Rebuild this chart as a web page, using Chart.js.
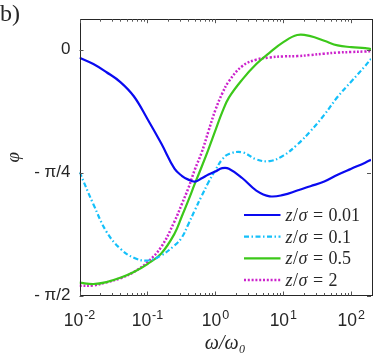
<!DOCTYPE html>
<html>
<head>
<meta charset="utf-8">
<script src="https://cdn.jsdelivr.net/npm/chart.js@4"></script>
<style>
  html, body { margin: 0; padding: 0; background: #fff; }
  canvas { display: block; }
</style>
</head>
<body>
<canvas id="myChart" width="374" height="356"></canvas>
<script>
// omega / omega0 sample points (log axis)
var omega = [0.01, 0.016, 0.025, 0.04, 0.063, 0.1, 0.16, 0.25, 0.32, 0.4, 0.5, 0.63, 0.79, 1,
  1.26, 1.58, 2.5, 4, 6.3, 10, 16, 25, 40, 63, 100, 160, 195];

// phase in degrees
var phi001 = [-3.0, -5.3, -8.3, -11.9, -17.1, -25.4, -34.4, -43.6, -46.2, -47.6, -48.3, -47.1, -45.7, -44.6,
  -43.4, -43.6, -47.1, -51.6, -53.7, -53.2, -51.6, -50.0, -48.3, -45.8, -43.6, -41.4, -40.3];
var phi01 = [-44.8, -56.6, -66.7, -72.9, -76.2, -77.2, -75.3, -71.7, -68.8, -63.9, -58.7, -53.5, -48.6, -44.1,
  -40.2, -38.2, -37.6, -40.2, -40.8, -38.8, -34.8, -29.9, -23.9, -17.3, -11.7, -6.0, -3.4];
var phi05 = [-85.3, -85.8, -85.1, -83.5, -81.4, -78.5, -74.6, -67.4, -61.1, -55.2, -49.0, -42.8, -36.5, -29.6,
  -22.9, -17.6, -10.9, -5.3, -1.1, 2.7, 5.3, 4.9, 3.2, 1.5, 0.9, 0.5, 0.2];
var phi2 = [-86.4, -86.3, -85.2, -83.7, -81.4, -77.8, -72.2, -62.9, -56.6, -50.7, -43.8, -37.6, -29.9, -22.1,
  -16.1, -11.6, -6.0, -3.7, -2.9, -2.5, -2.4, -2.0, -1.5, -1.1, -0.9, -0.7, -0.6];

var seriesLabels = ['z/σ = 0.01', 'z/σ = 0.1', 'z/σ = 0.5', 'z/σ = 2'];
var yTickValues = [-90, -45, 0];
var yTickLabels = ['- π/2', '- π/4', '0'];
var xTickValues = [0.01, 0.1, 1, 10, 100];
var xTickExps = ['-2', '-1', '0', '1', '2'];

function pts(arr) {
  return omega.map(function (x, i) { return { x: x, y: arr[i] }; });
}

var TXT = '#262626';

var decor = {
  id: 'decor',
  afterDraw: function (chart) {
    var c = chart.ctx, a = chart.chartArea;
    var xs = chart.scales.x, ys = chart.scales.y;
    c.save();
    // frame
    c.strokeStyle = TXT;
    c.lineWidth = 1;
    c.strokeRect(Math.round(a.left) + 0.5, Math.round(a.top) + 0.5,
      Math.round(a.right - a.left), Math.round(a.bottom - a.top));
    // x ticks, inside, top and bottom
    c.strokeStyle = '#555';
    for (var d = -2; d <= 2; d++) {
      for (var m = 1; m <= 9; m++) {
        var v = m * Math.pow(10, d);
        if (v > xs.max) break;
        var px = Math.round(xs.getPixelForValue(v)) + 0.5;
        var len = m === 1 ? 4 : 2.5;
        c.beginPath();
        c.moveTo(px, a.bottom); c.lineTo(px, a.bottom - len);
        c.moveTo(px, a.top); c.lineTo(px, a.top + len);
        c.stroke();
      }
    }
    // y ticks, inside, left and right
    yTickValues.forEach(function (v) {
      var py = Math.round(ys.getPixelForValue(v)) + 0.5;
      c.beginPath();
      c.moveTo(a.left, py); c.lineTo(a.left + 4, py);
      c.moveTo(a.right, py); c.lineTo(a.right - 4, py);
      c.stroke();
    });
    // x tick labels 10^n
    c.fillStyle = TXT;
    c.textBaseline = 'alphabetic';
    c.textAlign = 'left';
    xTickValues.forEach(function (v, i) {
      var px = xs.getPixelForValue(v);
      c.font = '17.5px "Liberation Sans", Arial, sans-serif';
      var w1 = c.measureText('10').width;
      c.font = '12.5px "Liberation Sans", Arial, sans-serif';
      var w2 = c.measureText(xTickExps[i]).width;
      var x0 = px - (w1 + w2 + 1) / 2;
      c.font = '17.5px "Liberation Sans", Arial, sans-serif';
      c.fillText('10', x0, 325.5);
      c.font = '12.5px "Liberation Sans", Arial, sans-serif';
      c.fillText(xTickExps[i], x0 + w1 + 1, 319);
    });
    // legend
    var rowY = [215, 236.7, 258.4, 280];
    chart.data.datasets.forEach(function (ds, i) {
      var y = rowY[i];
      c.strokeStyle = ds.borderColor;
      c.lineWidth = ds.borderWidth;
      c.setLineDash(ds.borderDash || []);
      c.beginPath();
      c.moveTo(244, y); c.lineTo(280.5, y);
      c.stroke();
      c.setLineDash([]);
      var parts = ds.label.split(' = ');
      var x = 285.5, base = y + 6;
      c.fillStyle = TXT;
      c.font = 'italic 18px "Liberation Serif", serif';
      c.fillText('z', x, base); x += c.measureText('z').width + 0.5;
      c.font = '18px "Liberation Serif", serif';
      c.fillText('/', x, base); x += c.measureText('/').width + 0.5;
      c.font = 'italic 18px "Liberation Serif", serif';
      c.fillText('σ', x, base); x += c.measureText('σ').width + 5.5;
      c.font = '18px "Liberation Serif", serif';
      c.fillText('=', x, base); x += c.measureText('=').width + 5.5;
      c.fillText(parts[1], x, base);
    });
    // panel letter
    c.font = '24px "Liberation Serif", serif';
    c.fillText('b)', 0, 21);
    c.restore();
  }
};

var ctx = document.getElementById('myChart').getContext('2d');
var myChart = new Chart(ctx, {
  type: 'line',
  data: {
    datasets: [{
      label: seriesLabels[0],
      data: pts(phi001),
      borderColor: '#0a0af0',
      borderWidth: 2.2
    }, {
      label: seriesLabels[1],
      data: pts(phi01),
      borderColor: '#14c0fa',
      borderWidth: 2.2,
      borderDash: [5, 2.5, 1.5, 2.5]
    }, {
      label: seriesLabels[2],
      data: pts(phi05),
      borderColor: '#3cc81a',
      borderWidth: 2.2
    }, {
      label: seriesLabels[3],
      data: pts(phi2),
      borderColor: '#cc22cc',
      borderWidth: 2.5,
      borderDash: [2, 1.8]
    }]
  },
  options: {
    responsive: false,
    animation: false,
    devicePixelRatio: 1,
    elements: {
      point: { radius: 0 },
      line: { tension: 0.4, fill: false }
    },
    layout: { padding: { top: 3.7, right: 3, left: 0, bottom: 0 } },
    plugins: {
      legend: { display: false },
      tooltip: { enabled: false }
    },
    scales: {
      x: {
        type: 'logarithmic',
        min: 0.01,
        max: 195,
        grid: { display: false, drawTicks: false },
        border: { display: false },
        ticks: { display: false },
        title: {
          display: true,
          text: 'ω/ω₀',
          color: TXT,
          font: { family: '"Liberation Serif", serif', style: 'italic', size: 20 },
          padding: 0
        },
        afterFit: function (s) { s.height = 60.5; }
      },
      y: {
        type: 'linear',
        min: -90,
        max: 11.1,
        grid: { display: false, drawTicks: false },
        border: { display: false },
        afterBuildTicks: function (s) {
          s.ticks = yTickValues.map(function (v) { return { value: v }; });
        },
        ticks: {
          color: TXT,
          padding: 9,
          font: { family: '"Liberation Sans", Arial, sans-serif', size: 17 },
          callback: function (v) { return yTickLabels[yTickValues.indexOf(v)]; }
        },
        title: {
          display: true,
          text: 'φ',
          color: TXT,
          font: { family: '"Liberation Serif", serif', style: 'italic', size: 19 },
          padding: 3
        },
        afterFit: function (s) { s.width = 79.5; }
      }
    }
  },
  plugins: [decor]
});
</script>
</body>
</html>
